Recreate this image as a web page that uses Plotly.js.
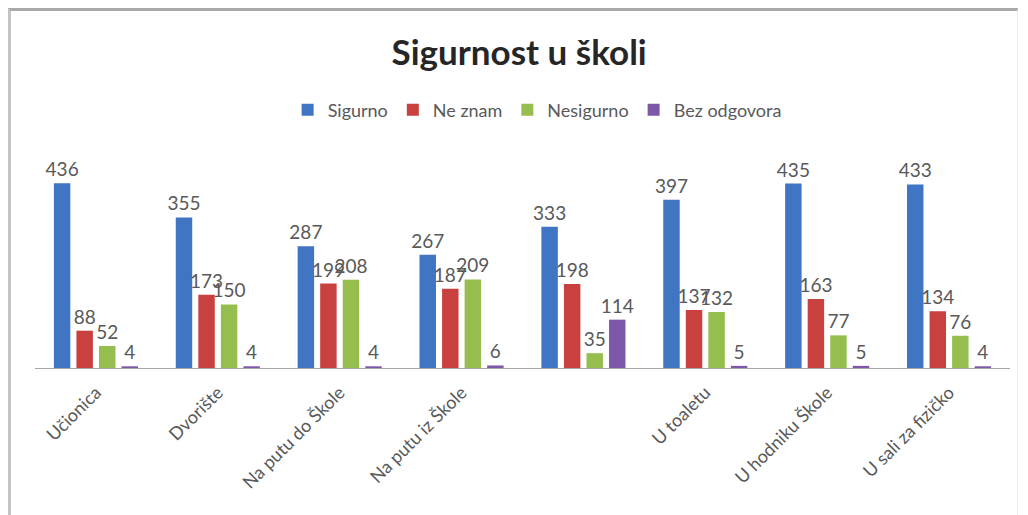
<!DOCTYPE html>
<html>
<head>
<meta charset="utf-8">
<script src="https://cdn.plot.ly/plotly-3.0.1.min.js"></script>
<style>
  html, body { margin: 0; padding: 0; background: #ffffff; }
  #chart { width: 1028px; height: 515px; position: absolute; left: 0; top: 0; }
  #frame { position: absolute; left: 8px; top: 8px; width: 1010px; height: 520px;
           border-top: 3px solid #a8a8a8; border-left: 3px solid #c4c4c4; border-right: 1px solid #ececec;
           pointer-events: none; box-sizing: border-box; }
</style>
</head>
<body>
<div id="chart"></div>
<div id="frame"></div>
<script>
const categories = ['Učionica', 'Dvorište', 'Na putu do Škole', 'Na putu iz Škole', ' ', 'U toaletu', 'U hodniku Škole', 'U sali za fizičko'];
const seriesNames = ['Sigurno', 'Ne znam', 'Nesigurno', 'Bez odgovora'];
const sigurno     = [436, 355, 287, 267, 333, 397, 435, 433];
const neZnam      = [88, 173, 199, 187, 198, 137, 163, 134];
const nesigurno   = [52, 150, 208, 209, 35, 132, 77, 76];
const bezOdgovora = [4, 4, 4, 6, 114, 5, 5, 4];
const colors = ['#4075C4', '#C8413F', '#95BE4E', '#7D58A8'];

const values = [sigurno, neZnam, nesigurno, bezOdgovora];
const font = 'Lato, "Open Sans", sans-serif';

const traces = values.map((v, i) => ({
  type: 'bar',
  name: seriesNames[i],
  x: categories,
  y: v,
  text: v.map(String),
  textposition: 'outside',
  constraintext: 'none',
  cliponaxis: false,
  textfont: { family: font, size: 19, color: '#595959' },
  marker: { color: colors[i] },
  hoverinfo: 'x+y+name'
}));

const layout = {
  width: 1028,
  height: 515,
  paper_bgcolor: '#ffffff',
  plot_bgcolor: '#ffffff',
  margin: { l: 35, r: 18, t: 156, b: 147 },
  title: {
    text: '<b>Sigurnost u školi</b>',
    font: { family: font, size: 35, color: '#262626' },
    x: 0.505, xanchor: 'center',
    y: 1 - 53 / 515, yanchor: 'middle'
  },
  showlegend: true,
  legend: {
    orientation: 'h',
    x: 0.515, xanchor: 'center',
    y: 1.217, yanchor: 'middle',
    font: { family: font, size: 18, color: '#595959' },
    itemwidth: 30,
    traceorder: 'normal'
  },
  barmode: 'group',
  bargap: 0.26,
  bargroupgap: 0.27,
  xaxis: {
    type: 'category',
    tickangle: -45,
    tickfont: { family: font, size: 18, color: '#595959' },
    ticklabelstandoff: 6,
    showline: true,
    linecolor: '#a6a6a6',
    linewidth: 1,
    ticks: '',
    showgrid: false,
    zeroline: false
  },
  yaxis: {
    range: [0, 500],
    visible: false,
    showgrid: false,
    zeroline: false
  }
};

Plotly.newPlot('chart', traces, layout, { displayModeBar: false, staticPlot: true });
</script>
</body>
</html>
